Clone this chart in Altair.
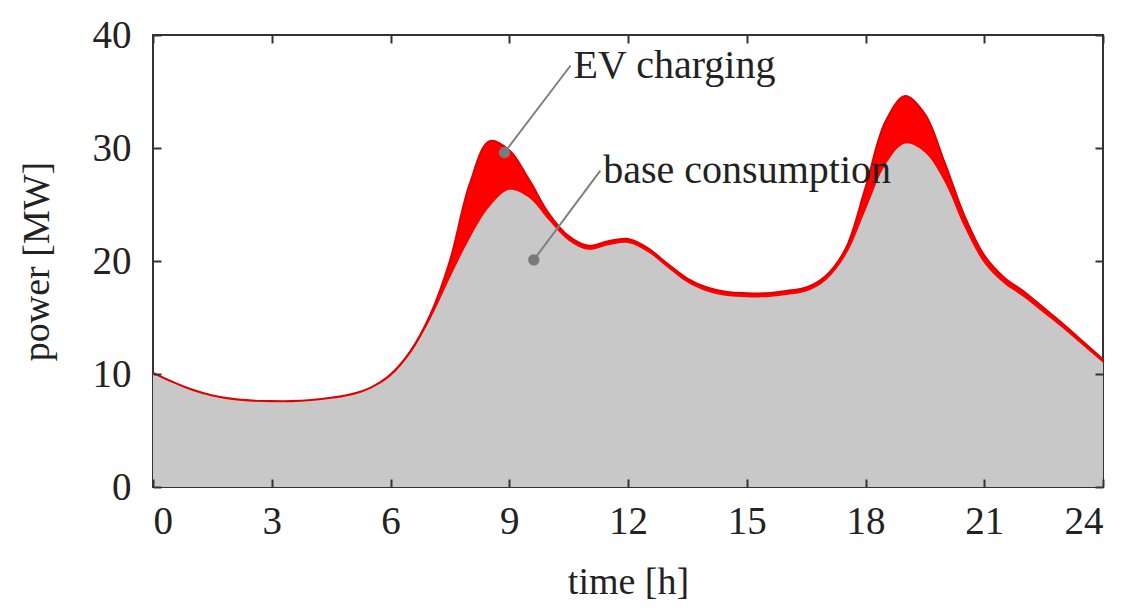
import altair as alt
import pandas as pd

# ---- data ----
hours = [0, 0.5, 1, 1.5, 2, 2.5, 3, 3.5, 4, 4.5, 5, 5.5, 6, 6.5, 7, 7.5, 8, 8.5, 9, 9.5,
         10, 10.5, 11, 11.5, 12, 12.5, 13, 13.5, 14, 14.5, 15, 15.5, 16, 16.5, 17, 17.5,
         18, 18.5, 19, 19.5, 20, 20.5, 21, 21.5, 22, 22.5, 23, 23.5, 24]
base_mw = [10.0, 9.2, 8.5, 8.0, 7.7, 7.55, 7.5, 7.5, 7.6, 7.8, 8.1, 8.7, 9.8, 11.8, 14.8, 18.5,
           22.0, 24.8, 26.3, 25.6, 23.6, 21.8, 21.0, 21.4, 21.6, 20.8, 19.4, 18.1, 17.3, 16.9,
           16.8, 16.8, 17.0, 17.3, 18.3, 20.5, 24.5, 28.5, 30.4, 29.6, 27.0, 23.0, 19.8, 18.0,
           16.8, 15.4, 14.0, 12.5, 11.0]
ev_mw = [0.1, 0.1, 0.1, 0.1, 0.1, 0.1, 0.1, 0.1, 0.1, 0.1, 0.1, 0.1, 0.15, 0.2, 0.4, 1.5,
         4.8, 5.8, 3.5, 1.6, 0.6, 0.4, 0.35, 0.35, 0.35, 0.35, 0.35, 0.35, 0.35, 0.35,
         0.35, 0.35, 0.35, 0.35, 0.4, 0.6, 2.0, 3.8, 4.2, 3.4, 1.7, 1.0, 0.7, 0.55,
         0.5, 0.45, 0.4, 0.35, 0.3]
total_mw = [round(b + e, 2) for b, e in zip(base_mw, ev_mw)]

x_ticks = [0, 3, 6, 9, 12, 15, 18, 21, 24]
y_ticks = [0, 10, 20, 30, 40]

ann_labels = ["EV charging", "base consumption"]
ann_dot_t = [8.88, 9.62]
ann_dot_v = [29.6, 20.1]
ann_text_t = [10.55, 11.3]
ann_text_v = [37.3, 28.0]

FONT = "Liberation Serif"

df = pd.DataFrame({"t": hours, "base": base_mw, "total": total_mw})
leader = pd.DataFrame({
    "label": ann_labels + ann_labels,
    "t": ann_dot_t + ann_text_t,
    "v": ann_dot_v + ann_text_v,
})
dots = pd.DataFrame({"label": ann_labels, "t": ann_dot_t, "v": ann_dot_v})
texts = pd.DataFrame({"label": ann_labels, "t": ann_text_t, "v": ann_text_v})

xscale = alt.Scale(domain=[0, 24], nice=False, zero=False)
yscale = alt.Scale(domain=[0, 40], nice=False)

tick_style = dict(offset=-8, tickSize=8, tickWidth=2, tickColor="#333",
                  domain=False, grid=False, zindex=1)

red = alt.Chart(df).mark_area(
    color="#ff0000", opacity=1, interpolate="catmull-rom",
    line={"color": "#e00000", "strokeWidth": 2}
).encode(
    x=alt.X("t:Q", scale=xscale, axis=alt.Axis(
        values=x_ticks, title="time [h]", labelFont=FONT, labelFontSize=39,
        labelColor="#222", labelPadding=15, titleFont=FONT, titleFontSize=38,
        titleFontWeight="normal", titleColor="#222", titlePadding=22, **tick_style)),
    y=alt.Y("total:Q", scale=yscale, axis=alt.Axis(
        values=y_ticks, title="power [MW]", labelFont=FONT, labelFontSize=39,
        labelColor="#222", labelPadding=22, titleFont=FONT, titleFontSize=38,
        titleFontWeight="normal", titleColor="#222", titlePadding=36, **tick_style)),
)

gray = alt.Chart(df).mark_area(color="#c8c8c8", opacity=1, interpolate="catmull-rom").encode(
    x=alt.X("t:Q", scale=xscale, axis=alt.Axis(
        orient="top", values=x_ticks, labels=False, title="", **tick_style)),
    y=alt.Y("base:Q", scale=yscale, axis=alt.Axis(
        orient="right", values=y_ticks, labels=False, title="", **tick_style)),
)

lines = alt.Chart(leader).mark_line(color="#808080", strokeWidth=2).encode(
    x=alt.X("t:Q", scale=xscale, axis=None),
    y=alt.Y("v:Q", scale=yscale, axis=None),
    detail="label:N",
)

points = alt.Chart(dots).mark_circle(color="#7a7a7a", size=130, opacity=1).encode(
    x=alt.X("t:Q", scale=xscale, axis=None),
    y=alt.Y("v:Q", scale=yscale, axis=None),
)

labels = alt.Chart(texts).mark_text(
    align="left", baseline="middle", dx=3, font=FONT, fontSize=40, color="#222"
).encode(
    x=alt.X("t:Q", scale=xscale, axis=None),
    y=alt.Y("v:Q", scale=yscale, axis=None),
    text="label:N",
)

chart = alt.layer(red, gray, lines, points, labels).resolve_axis(
    x="independent", y="independent"
).properties(
    width=950, height=452,
    autosize=alt.AutoSizeParams(type="none"),
    padding={"left": 145, "top": 27, "right": 21, "bottom": 120},
    background="white",
).configure_view(stroke="#333", strokeWidth=2)

chart.save("out.html", embed_options={"renderer": "svg", "actions": False})
